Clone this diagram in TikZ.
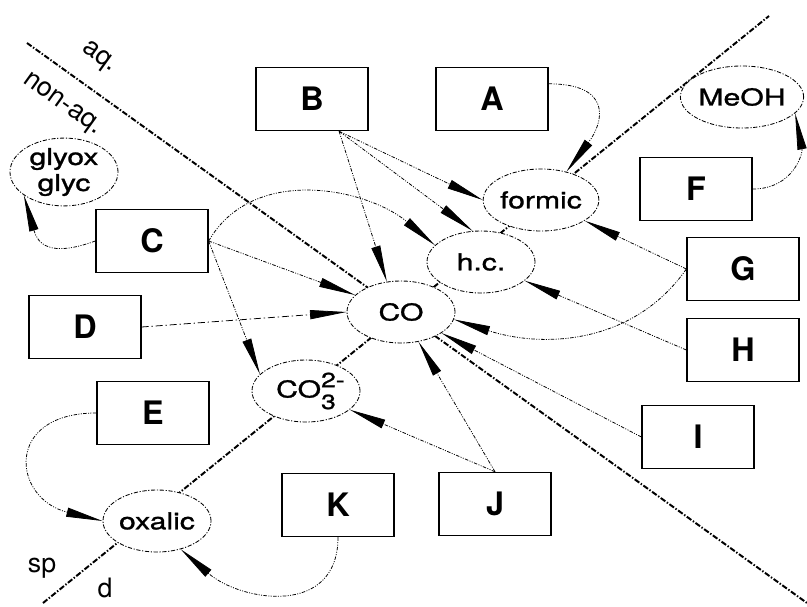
\documentclass[tikz,border=0pt]{standalone}
\usepackage{fontspec}
\setmainfont{TeX Gyre Heros}
\newfontfamily\widesans{TeX Gyre Heros}[FakeStretch=1.3,FakeBold=1.2]
\usetikzlibrary{shapes.geometric,arrows.meta}
\newcommand{\carbonate}{CO\rlap{\raisebox{0.85ex}{\fontsize{14.5}{14}\selectfont 2-}}\raisebox{-0.95ex}{\fontsize{14.5}{14}\selectfont 3}}

\begin{document}
\begin{tikzpicture}[
  x=0.025cm, y=0.025cm,
  species/.style={ellipse, draw, fill=white, line width=0.6pt,
    dash pattern=on 3pt off 1.2pt on 0.8pt off 1.2pt,
    minimum width=2.7cm, minimum height=1.55cm, inner sep=0pt,
    font=\widesans\fontsize{16.5}{18.5}\selectfont, align=center},
  reagent/.style={rectangle, draw, fill=white, line width=0.9pt,
    minimum width=2.8cm, minimum height=1.58cm,
    font=\fontsize{23}{25}\selectfont\bfseries},
  route/.style={line width=0.55pt,
    dash pattern=on 2.5pt off 1pt on 0.7pt off 1pt on 0.7pt off 1pt,
    -{Triangle[length=26pt,width=6.5pt]}},
  divider/.style={line width=1.4pt, dash pattern=on 4pt off 1.3pt on 1pt off 1.3pt},
  phase/.style={font=\fontsize{19}{21}\selectfont}
]
\useasboundingbox (0,0) rectangle (807,606);

% phase boundaries
\coordinate (aqtop) at (27,563);
\coordinate (aqend) at (807,3);
\coordinate (sdlow) at (43,3);
\coordinate (sdtop) at (769,590);
\draw[divider] (aqtop) -- (aqend);
\draw[divider] (sdlow) -- (sdtop);
\node[phase, rotate=-35.7] (aq) at (99,548) {aq.};
\node[phase, rotate=-35.7] (nonaq) at (62,501) {non-aq.};
\node[phase] (sp) at (42,38) {sp};
\node[phase] (d) at (105,18) {d};

% products
\node[species] (glyox)  at (64,434)  {glyox\\glyc};
\node[species] (MeOH)   at (742,509) {MeOH};
\node[species] (formic) at (541,406) {formic};
\node[species] (hc)     at (481,344) {h.c.};
\node[species] (CO)     at (401,294) {CO};
\node[species] (carb)   at (306,215) {\carbonate};
\node[species] (oxalic) at (157,85)  {oxalic};

% reagents
\node[reagent] (B) at (312,507) {B};
\node[reagent] (A) at (492,507) {A};
\node[reagent] (F) at (696,417) {F};
\node[reagent] (C) at (152,365) {C};
\node[reagent] (G) at (743,337) {G};
\node[reagent] (D) at (85,279)  {D};
\node[reagent] (H) at (743,256) {H};
\node[reagent] (E) at (153,193) {E};
\node[reagent] (I) at (698,169) {I};
\node[reagent] (K) at (338,101) {K};
\node[reagent] (J) at (495,102) {J};

% routes
\draw[route] (A.15) to[out=0,in=53,looseness=1.8] (formic.48);
\draw[route] (F.east) to[out=0,in=-79,looseness=1.2] (MeOH.-17);
\draw[route] (B.-50) -- (CO.115);
\draw[route] (B.-50) -- (hc.105);
\draw[route] (B.-50) -- (formic.west);
\draw[route] (C.east) to[out=60,in=140] (hc.160);
\draw[route] (C.east) -- (CO);
\draw[route] (C.east) -- (carb.160);
\draw[route] (C.west) to[out=200,in=-74,looseness=1.5] (glyox.-150);
\draw[route, dash pattern=on 5pt off 2pt on 1pt off 2pt] (D.east) -- (CO.west);
\draw[route] (E.west) to[out=180,in=166,looseness=2.2] (oxalic.west);
\draw[route] (K.south) to[out=-90,in=-41,looseness=1.3] (oxalic.-50);
\draw[route] (G.west) -- (formic);
\draw[route] (G.west) to[out=-125,in=-18] (CO.-8);
\draw[route] (H.west) -- (hc);
\draw[route] (I.west) -- (CO);
\draw[route] (J.north) -- (CO);
\draw[route] (J.north) -- (carb);
\end{tikzpicture}
\end{document}
